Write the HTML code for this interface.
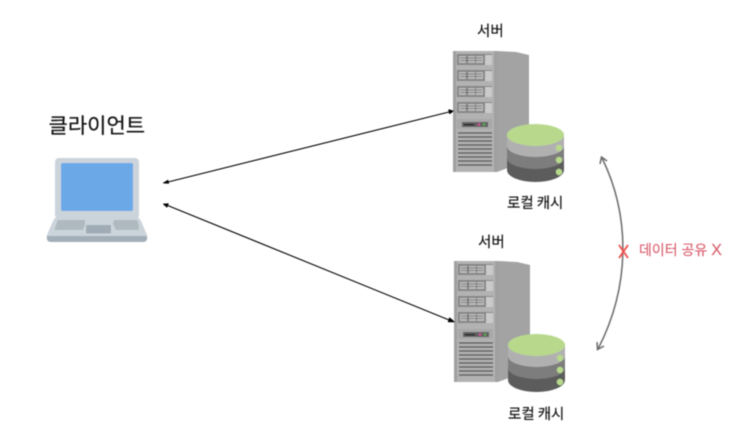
<!DOCTYPE html>
<html><head><meta charset="utf-8"><style>
html,body{margin:0;padding:0;background:#fff}
svg{display:block}
text{font-family:"Liberation Sans","Noto Sans CJK KR",sans-serif;fill:#111;stroke:#111;stroke-width:0.15px}
</style></head><body>
<svg width="746" height="436" viewBox="0 0 746 436" xmlns="http://www.w3.org/2000/svg">
<defs>
<filter id="b" x="-5%" y="-5%" width="110%" height="110%"><feGaussianBlur stdDeviation="0.45"/></filter>
<g id="srv">
<path d="M497 51L516 52L529 55L529 160L497 172Z" fill="#a3a3a3"/>
<path d="M453 51H497V172H453Z" fill="#a0a0a0"/>
<rect x="456" y="51" width="38" height="121" fill="#b2b2b2"/>
<g id="dr"><rect x="457" y="54" width="35" height="11" fill="#858585"/><rect x="459" y="56" width="7" height="7" fill="#bcbcbc"/><rect x="468" y="56" width="7" height="7" fill="#bcbcbc"/><rect x="476" y="56" width="7" height="7" fill="#bcbcbc"/><path d="M460 58H482M460 60.500H482" stroke="#666" stroke-width="0.700"/><rect x="485" y="55" width="7" height="10" fill="#cacaca"/></g>
<use href="#dr" y="16"/><use href="#dr" y="32"/><use href="#dr" y="48"/>
<rect x="457" y="119" width="35" height="10" fill="#a8a8a8"/>
<rect x="462" y="122" width="26" height="5" fill="#5e5e5e"/>
<rect x="464" y="124" width="10" height="1.400" fill="#222"/>
<circle cx="479" cy="124.500" r="1.400" fill="#d0509a"/><circle cx="484" cy="124.500" r="1.400" fill="#5aa84f"/>
<path d="M458 133H492M458 137H492M458 141H492M458 145H492M458 149H492M458 153H492M458 157H492M458 161H492M458 165H492" stroke="#5c5c5c" stroke-width="1.500"/>
<path d="M507 135V170A28.500 12 0 0 0 564 170V135Z" fill="#5c5c5c"/>
<path d="M507 135V158A28.500 11 0 0 0 564 158V135Z" fill="#7d7d7d"/>
<path d="M507 135V146A28.500 11 0 0 0 564 146V135Z" fill="#b0b0b0"/>
<ellipse cx="535.500" cy="135" rx="28.500" ry="11" fill="#b8d98c"/>
<circle cx="559" cy="148" r="3.200" fill="#b8d98c"/><circle cx="559" cy="160" r="3.200" fill="#b8d98c"/><circle cx="559" cy="172" r="3.200" fill="#b8d98c"/>
</g>
</defs>
<g filter="url(#b)">
<use href="#srv"/>
<use href="#srv" x="1" y="210"/>
<!-- laptop -->
<rect x="55" y="158" width="84" height="61" rx="4" fill="#ccd4db"/>
<rect x="61" y="163" width="72" height="48" rx="1.500" fill="#6aa8e8"/>
<path d="M58 217H136Q139 217 141 221L147 235Q148 242 143 242H51Q46 242 47 235L53 221Q55 217 58 217Z" fill="#ccd4db"/>
<path d="M47 236H147Q148 242 143 242H51Q46 242 47 236Z" fill="#a3afb8"/>
<path d="M59 220H85V224L83 230H56Q54 230 55 228L57 222Q57.500 220 59 220Z" fill="#aeb9c0"/>
<path d="M114 220H136Q137.500 220 138 222L139 228Q139 230 137 230H116L113 224Z" fill="#aeb9c0"/>
<rect x="86" y="225" width="25" height="8.500" rx="1" fill="#a0acb5"/>
<!-- arrows -->
<g stroke="#000" stroke-width="1.100" fill="none">
<path d="M164 183L453 111"/><path d="M164 204L454 322"/>
</g>
<path d="M163 183L168 180L168.800 183.500Z M454 111L448.500 109.500L449.500 114Z M163 204L168.500 203.500L167 207.500Z M455 322L449.500 317.500L448 322Z" fill="#000" stroke="#000" stroke-width="0.500"/>
<g stroke="#6a6a6a" stroke-width="1.500" fill="none">
<path d="M602 158C630 215 631 285 598 349"/>
<path d="M600 164L601.500 157L607 161M597 342L597.500 349.500L604 346"/>
</g>
<path d="M619 245L628 258M628 245L619 258" stroke="#f0504c" stroke-width="1.800" fill="none"/>
<text x="48.500" y="133" font-size="21">클라이언트</text>
<text x="477" y="36" font-size="14.500">서버</text>
<text x="478" y="247" font-size="14.500">서버</text>
<text x="507" y="208" font-size="14.500" word-spacing="-1">로컬 캐시</text>
<text x="508" y="419" font-size="14.500" word-spacing="-1">로컬 캐시</text>
<text x="639" y="255" font-size="14" style="fill:#d9616f;stroke:#d9616f">데이터 공유 <tspan font-size="16">X</tspan></text>
</g>
</svg>
</body></html>
